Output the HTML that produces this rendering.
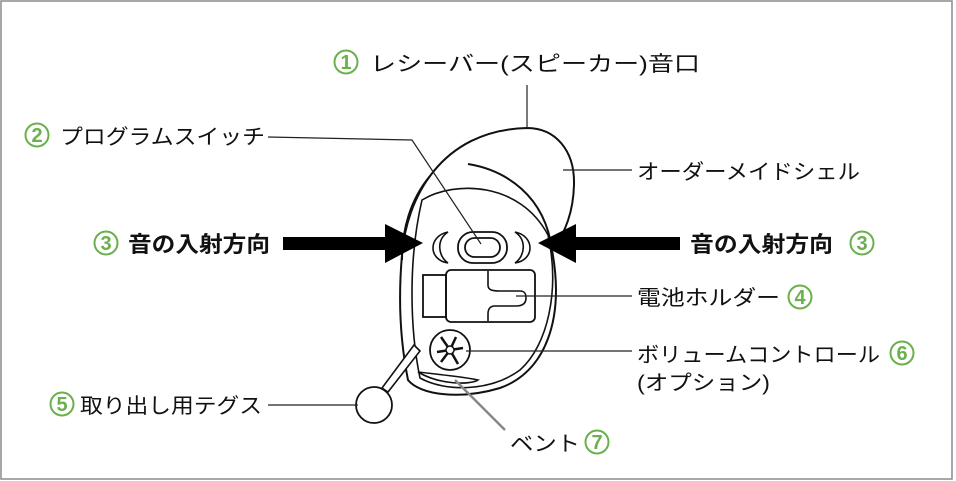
<!DOCTYPE html>
<html><head><meta charset="utf-8"><style>
html,body{margin:0;padding:0;background:#fff;}
svg{display:block}
text{font-family:"Liberation Sans","Noto Sans CJK JP",sans-serif;}
.l{font-size:21px;fill:#111}
.b{font-size:22px;font-weight:bold;fill:#111}
.n{font-size:20px;font-weight:bold;fill:#6ab04c}
</style></head><body>
<svg width="956" height="481" viewBox="0 0 956 481" xmlns="http://www.w3.org/2000/svg">
<rect x="1" y="1" width="951" height="478" fill="#fff" stroke="#8a8a8a" stroke-width="1.5"/>
<defs>
<g id="c"><circle r="11.5" fill="none" stroke="#6ab04c" stroke-width="2"/></g>
</defs>
<g fill="none" stroke="#111" stroke-width="2">
<path d="M527,128 C555,128 575,150 574,185 C573,220 560,240 552,250 C565,320 545,372 500,388 C460,400 420,395 408,380 C400,340 398,300 402,255 C406,200 440,130 527,128 Z"/>
<path d="M468,164 C505,170 545,195 552,250"/>
<path d="M430,176 C410,200 402,230 402,260"/>
<path d="M422,200 C455,180 520,182 548,235 C560,290 548,345 520,370 C490,392 445,392 420,378 C410,330 408,260 422,200 Z" stroke-width="1.6"/>
<path d="M448,232 C428,236 428,260 448,263 C438,256 436,240 448,232 Z" stroke-width="1.6"/>
<path d="M515,232 C535,236 535,260 515,263 C525,256 527,240 515,232 Z" stroke-width="1.6"/>
<rect x="458" y="232" width="49" height="31" rx="15" stroke-width="1.8"/>
<rect x="465" y="238" width="35" height="19" rx="9.5" stroke-width="1.8"/>
<rect x="423" y="275" width="23" height="42" stroke-width="1.8"/>
<rect x="446" y="270" width="89" height="52" rx="5" stroke-width="1.8"/>
<path d="M488,271 V285 C488,290 492,291 500,291 H520 C525,291 526,294 526,298 C526,304 522,306 516,306 H495 C490,306 488,309 488,314 V321" stroke-width="1.6"/>
<circle cx="450" cy="350" r="20" stroke-width="1.8"/>
<g stroke-width="2.5"><line x1="450" y1="350" x2="441" y2="337"/><line x1="450" y1="350" x2="437" y2="352"/><line x1="450" y1="350" x2="441" y2="362"/><line x1="450" y1="350" x2="458" y2="364"/><line x1="450" y1="350" x2="463" y2="348"/><line x1="450" y1="350" x2="456" y2="337"/></g>
<circle cx="450" cy="350" r="4" fill="#fff" stroke-width="1.5"/>
<path d="M418,372 C440,385 470,385 478,380 C470,378 445,375 418,372 Z" stroke-width="1.6"/>
<path d="M414,345 L420,351 L388,392 L382,388 Z" fill="#fff" stroke-width="1.6"/>
<circle cx="374" cy="405" r="18" fill="#fff" stroke-width="1.8"/>
</g>
<g stroke="#222" stroke-width="1.2" fill="none">
<line x1="527" y1="85" x2="527" y2="128"/>
<polyline points="268,137 412,140 481,244"/>
<line x1="563" y1="170" x2="632" y2="170"/>
<line x1="516" y1="296" x2="632" y2="296"/>
<line x1="466" y1="351" x2="632" y2="351"/>
<line x1="268" y1="405" x2="358" y2="405"/>
</g>
<line x1="455" y1="380" x2="505" y2="430" stroke="#888" stroke-width="2.5"/>
<g fill="#000">
<rect x="283" y="237" width="104" height="13"/>
<polygon points="385,224 423,243 385,263"/>
<rect x="574" y="237" width="106" height="13"/>
<polygon points="576,224 538,243 576,263"/>
</g>
<use href="#c" x="346" y="62"/><text class="n" x="346" y="69" text-anchor="middle">1</text>
<text class="l" x="370" y="71" textLength="330" lengthAdjust="spacingAndGlyphs">レシーバー(スピーカー)音口</text>
<use href="#c" x="37" y="135"/><text class="n" x="37" y="142" text-anchor="middle">2</text>
<text class="l" x="60" y="144" textLength="205" lengthAdjust="spacingAndGlyphs">プログラムスイッチ</text>
<use href="#c" x="106" y="243"/><text class="n" x="106" y="250" text-anchor="middle">3</text>
<text class="b" x="128" y="252" textLength="142" lengthAdjust="spacingAndGlyphs">音の入射方向</text>
<text class="b" x="690" y="252" textLength="143" lengthAdjust="spacingAndGlyphs">音の入射方向</text>
<use href="#c" x="862" y="243"/><text class="n" x="862" y="250" text-anchor="middle">3</text>
<text class="l" x="637" y="179" textLength="223" lengthAdjust="spacingAndGlyphs">オーダーメイドシェル</text>
<text class="l" x="637" y="305" textLength="143" lengthAdjust="spacingAndGlyphs">電池ホルダー</text>
<use href="#c" x="800" y="297"/><text class="n" x="800" y="304" text-anchor="middle">4</text>
<text class="l" x="637" y="362" textLength="243" lengthAdjust="spacingAndGlyphs">ボリュームコントロール</text>
<use href="#c" x="902" y="353"/><text class="n" x="902" y="360" text-anchor="middle">6</text>
<text class="l" x="637" y="390" textLength="133" lengthAdjust="spacingAndGlyphs">(オプション)</text>
<use href="#c" x="62" y="404"/><text class="n" x="62" y="411" text-anchor="middle">5</text>
<text class="l" x="80" y="413" textLength="182" lengthAdjust="spacingAndGlyphs">取り出し用テグス</text>
<text class="l" x="510" y="451" textLength="70" lengthAdjust="spacingAndGlyphs">ベント</text>
<use href="#c" x="597" y="442"/><text class="n" x="597" y="449" text-anchor="middle">7</text>
</svg>
</body></html>
